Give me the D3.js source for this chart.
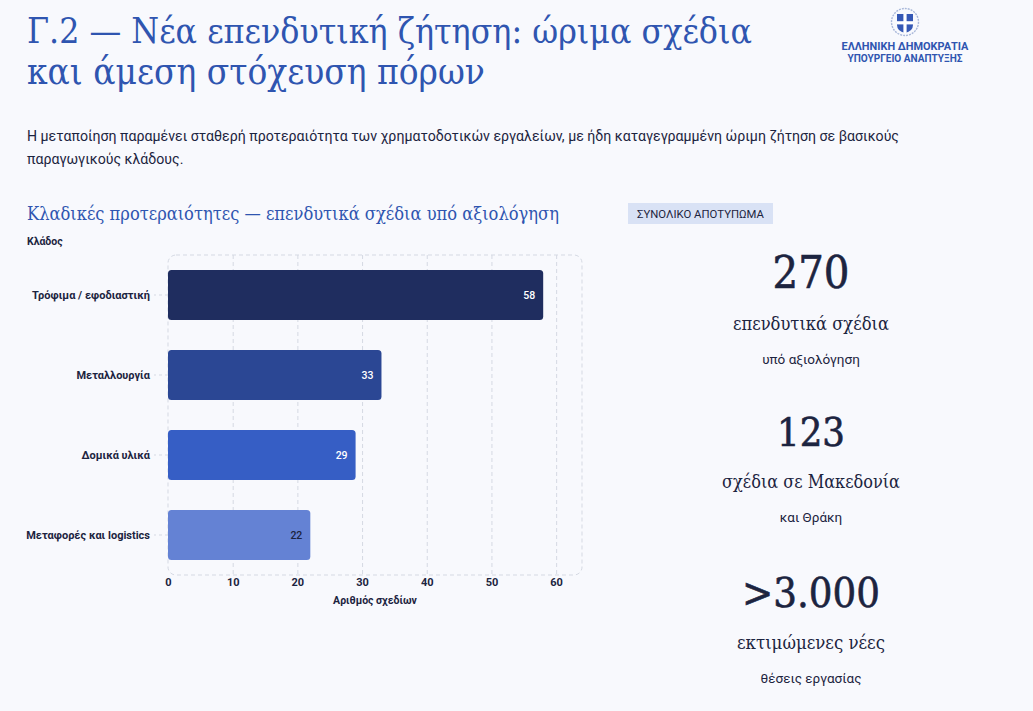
<!DOCTYPE html>
<html lang="el">
<head>
  <meta charset="UTF-8">
  <title>Γ.2 — Νέα επενδυτική ζήτηση</title>
  <script src="https://d3js.org/d3.v7.min.js"></script>
  <style>
    html, body { margin: 0; padding: 0; background: #f8f9fd; }
    svg { display: block; }
  </style>
</head>
<body>
  <script>
    const W = 1033, H = 711;

    // data
    const sectors = ['Τρόφιμα / εφοδιαστική', 'Μεταλλουργία', 'Δομικά υλικά', 'Μεταφορές και logistics'];
    const plans = [58, 33, 29, 22];
    const barColors = ['#1f2d5f', '#2b4794', '#365ec5', '#6482d4'];
    const labelColors = ['#ffffff', '#ffffff', '#ffffff', '#1c2440'];
    const xTicks = [0, 10, 20, 30, 40, 50, 60];

    const kpiValues = ['270', '123', '>3.000'];
    const kpiLabels = ['επενδυτικά σχέδια', 'σχέδια σε Μακεδονία', 'εκτιμώμενες νέες'];
    const kpiNotes = ['υπό αξιολόγηση', 'και Θράκη', 'θέσεις εργασίας'];

    const serif = '"Roboto Slab", "DejaVu Serif Condensed", "DejaVu Serif", serif';
    const sans = 'Roboto, "Noto Sans", sans-serif';
    const blue = '#2f55b0', ink = '#1c2440', grid = '#d5d9e3';

    const svg = d3.select('body').append('svg')
      .attr('width', W).attr('height', H)
      .style('background', '#f8f9fd');

    // shrink/grow font so text spans a given width
    function fit(sel, w) {
      const fs = parseFloat(sel.attr('font-size'));
      const len = sel.node().getComputedTextLength();
      sel.attr('font-size', (fs * w / len).toFixed(2));
      return sel;
    }

    // header
    fit(svg.append('text').attr('x', 27).attr('y', 43)
      .attr('font-family', serif).attr('font-size', 34).attr('fill', blue)
      .text('Γ.2 — Νέα επενδυτική ζήτηση: ώριμα σχέδια'), 725);
    fit(svg.append('text').attr('x', 27).attr('y', 84)
      .attr('font-family', serif).attr('font-size', 34).attr('fill', blue)
      .text('και άμεση στόχευση πόρων'), 458);

    svg.append('text').attr('x', 27).attr('y', 141)
      .attr('font-family', sans).attr('font-size', 14.15).attr('fill', ink)
      .text('Η μεταποίηση παραμένει σταθερή προτεραιότητα των χρηματοδοτικών εργαλείων, με ήδη καταγεγραμμένη ώριμη ζήτηση σε βασικούς');
    svg.append('text').attr('x', 27).attr('y', 164)
      .attr('font-family', sans).attr('font-size', 14.15).attr('fill', ink)
      .text('παραγωγικούς κλάδους.');

    // logo
    const logo = svg.append('g').attr('transform', 'translate(905,22)');
    logo.append('circle').attr('r', 13.5).attr('fill', 'none')
      .attr('stroke', '#a9b8da').attr('stroke-width', 1.4).attr('stroke-dasharray', '2,1');
    logo.append('path').attr('d', 'M-8,-8 H8 V3 Q8,9 0,11 Q-8,9 -8,3 Z').attr('fill', '#3558b5');
    logo.append('rect').attr('x', -1.6).attr('y', -8).attr('width', 3.2).attr('height', 19).attr('fill', '#fff');
    logo.append('rect').attr('x', -8).attr('y', -0.8).attr('width', 16).attr('height', 3.2).attr('fill', '#fff');
    fit(svg.append('text').attr('x', 905).attr('y', 50).attr('text-anchor', 'middle')
      .attr('font-family', sans).attr('font-weight', 700).attr('font-size', 10).attr('fill', blue)
      .text('ΕΛΛΗΝΙΚΗ ΔΗΜΟΚΡΑΤΙΑ'), 127);
    fit(svg.append('text').attr('x', 905).attr('y', 62).attr('text-anchor', 'middle')
      .attr('font-family', sans).attr('font-weight', 700).attr('font-size', 10).attr('fill', blue)
      .text('ΥΠΟΥΡΓΕΙΟ ΑΝΑΠΤΥΞΗΣ'), 115);

    // chart section
    fit(svg.append('text').attr('x', 27).attr('y', 220)
      .attr('font-family', serif).attr('font-size', 19).attr('fill', blue)
      .text('Κλαδικές προτεραιότητες — επενδυτικά σχέδια υπό αξιολόγηση'), 532);
    svg.append('text').attr('x', 27).attr('y', 245)
      .attr('font-family', sans).attr('font-weight', 700).attr('font-size', 10.5).attr('fill', ink)
      .text('Κλάδος');

    const x = d3.scaleLinear().domain([0, 64]).range([168, 582]);
    const y = d3.scaleBand().domain(sectors).range([255, 575])
      .paddingInner(0.375).paddingOuter(0.1875);

    // frame + grid
    svg.append('rect').attr('x', 168).attr('y', 255).attr('width', 414).attr('height', 320)
      .attr('rx', 8).attr('fill', 'none').attr('stroke', grid).attr('stroke-dasharray', '4,3');
    const xGrid = d3.axisBottom(x).tickValues(xTicks.slice(1)).tickSize(320).tickFormat('');
    svg.append('g').attr('transform', 'translate(0,255)').call(xGrid)
      .call(g => g.select('.domain').remove())
      .call(g => g.selectAll('line').attr('stroke', grid).attr('stroke-dasharray', '4,3'));

    // axes
    const yAxis = d3.axisLeft(y).tickSize(14).tickPadding(4);
    svg.append('g').attr('transform', 'translate(168,0)').call(yAxis)
      .call(g => g.select('.domain').remove())
      .call(g => g.selectAll('line').attr('stroke', grid).attr('stroke-dasharray', '3,3'))
      .call(g => g.selectAll('text').attr('font-family', sans).attr('font-weight', 700)
        .attr('font-size', 11).attr('fill', ink));

    const xAxis = d3.axisBottom(x).tickValues(xTicks).tickSize(0).tickPadding(3);
    svg.append('g').attr('transform', 'translate(0,575)').call(xAxis)
      .call(g => g.select('.domain').remove())
      .call(g => g.selectAll('text').attr('font-family', sans).attr('font-weight', 700)
        .attr('font-size', 11).attr('fill', ink));

    svg.append('text').attr('x', 375).attr('y', 604).attr('text-anchor', 'middle')
      .attr('font-family', sans).attr('font-weight', 700).attr('font-size', 10.5).attr('fill', ink)
      .text('Αριθμός σχεδίων');

    // bars
    svg.append('g').selectAll('rect').data(plans).join('rect')
      .attr('x', x(0))
      .attr('y', (d, i) => y(sectors[i]))
      .attr('width', d => x(d) - x(0))
      .attr('height', y.bandwidth())
      .attr('rx', 3.5)
      .attr('fill', (d, i) => barColors[i]);

    svg.append('g').selectAll('text').data(plans).join('text')
      .attr('x', d => x(d) - 8)
      .attr('y', (d, i) => y(sectors[i]) + y.bandwidth() / 2)
      .attr('dy', '0.35em')
      .attr('text-anchor', 'end')
      .attr('font-family', sans).attr('font-weight', 500).attr('font-size', 10.5)
      .attr('fill', (d, i) => labelColors[i])
      .text(d => d);

    // summary panel
    svg.append('rect').attr('x', 628).attr('y', 203).attr('width', 145).attr('height', 21)
      .attr('fill', '#d9e2f5');
    fit(svg.append('text').attr('x', 637).attr('y', 218)
      .attr('font-family', sans).attr('font-size', 11).attr('fill', ink)
      .text('ΣΥΝΟΛΙΚΟ ΑΠΟΤΥΠΩΜΑ'), 127);

    const kpiTop = [288, 446, 607];
    const kpiWidths = [77, 68, 138];
    const kpiLabelWidths = [156, 178, 148];
    const cx = 811;
    kpiValues.forEach((v, i) => {
      fit(svg.append('text').attr('x', cx).attr('y', kpiTop[i]).attr('text-anchor', 'middle')
        .attr('font-family', serif).attr('font-size', 46).attr('fill', ink)
        .attr('stroke', ink).attr('stroke-width', 0.6)
        .text(v), kpiWidths[i]);
      fit(svg.append('text').attr('x', cx).attr('y', kpiTop[i] + 42).attr('text-anchor', 'middle')
        .attr('font-family', serif).attr('font-size', 18).attr('fill', ink)
        .text(kpiLabels[i]), kpiLabelWidths[i]);
      svg.append('text').attr('x', cx).attr('y', kpiTop[i] + 76).attr('text-anchor', 'middle')
        .attr('font-family', sans).attr('font-size', 13.5).attr('fill', ink)
        .text(kpiNotes[i]);
    });
  </script>
</body>
</html>
